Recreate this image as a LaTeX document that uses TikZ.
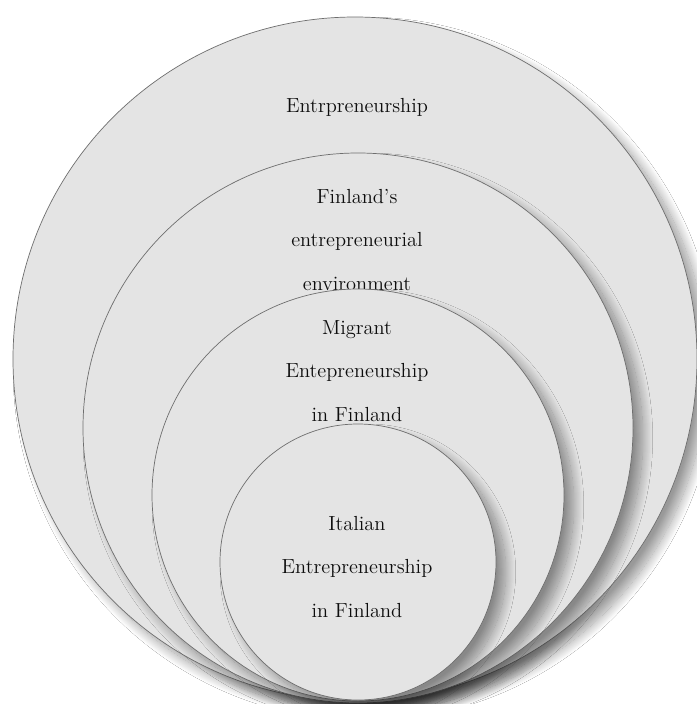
\documentclass[tikz,border=0pt]{standalone}
\usetikzlibrary{shadows.blur}
\definecolor{discfill}{HTML}{E4E4E4}
\definecolor{discline}{HTML}{6E6E6E}

\begin{document}
\begin{tikzpicture}[x=0.025cm,y=-0.025cm]
\tikzstyle{disc}=[draw=discline, fill=discfill, line width=0.5pt,
	blur shadow={shadow xshift=7pt, shadow yshift=-7pt, shadow blur radius=7pt, shadow blur steps=20, shadow opacity=40}]
\tikzstyle{lbl}=[align=center, font=\fontsize{14.5}{31}\selectfont, text=black!95]
\useasboundingbox (0,0) rectangle (697,704);
\clip (0,0) rectangle (697,704);
\fill[white] (0,0) rectangle (697,704);
% outermost to innermost, each drawn over the text of the one before
\path[disc] (355,359) circle (342);
\node[lbl] (entr) at (357,107) {Entrpreneurship};
\path[disc] (358,428) circle (275);
\node[lbl] (env) at (357,240) {Finland's\\ entrepreneurial\\ environment};
\path[disc] (358,495) circle (206);
\node[lbl] (migr) at (357,371) {Migrant\\ Entepreneurship\\ in Finland};
\path[disc] (358,562) circle (138);
\node[lbl] (ital) at (357,567) {Italian\\ Entrepreneurship\\ in Finland};
\end{tikzpicture}
\end{document}
